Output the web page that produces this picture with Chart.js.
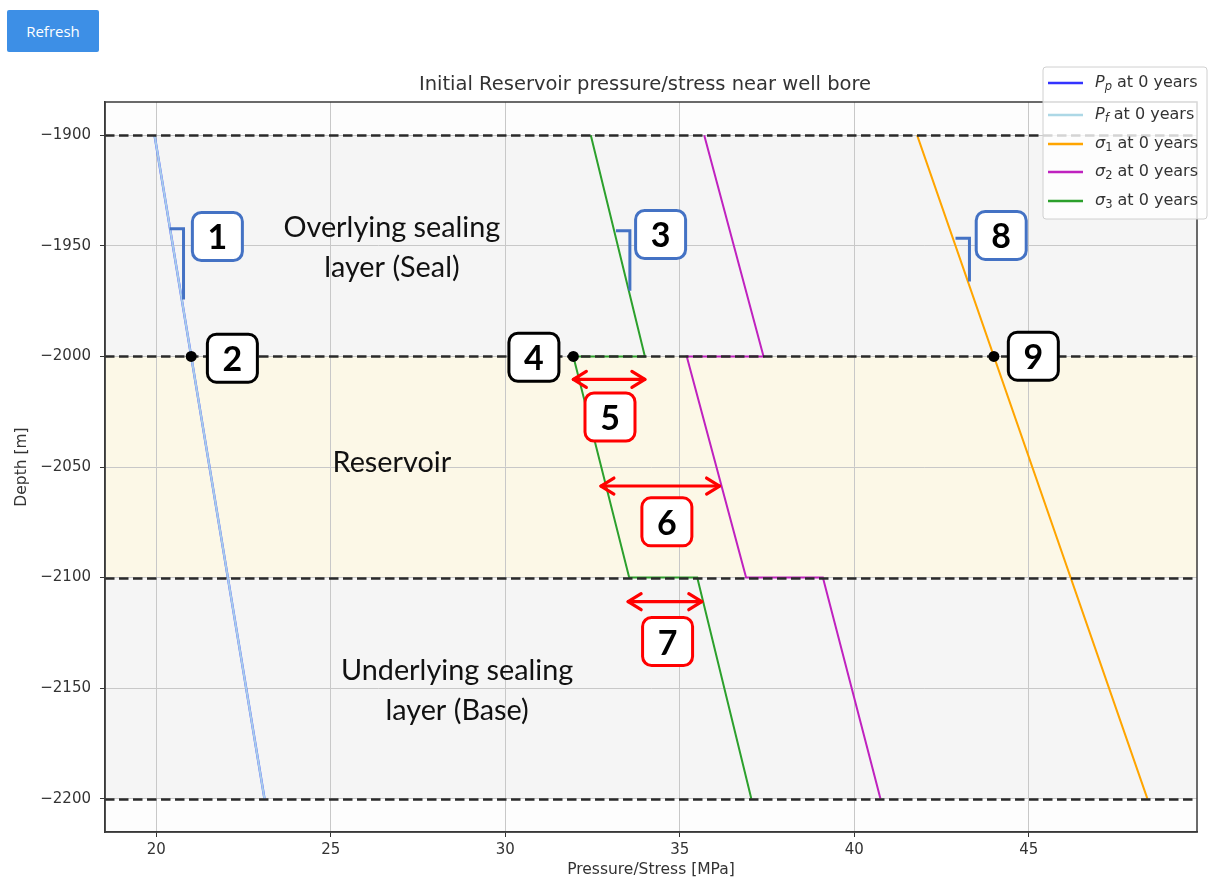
<!DOCTYPE html>
<html>
<head>
<meta charset="utf-8">
<script src="https://cdn.jsdelivr.net/npm/chart.js@4"></script>
<style>
  html, body { margin: 0; padding: 0; background: #ffffff; width: 1211px; height: 884px; overflow: hidden; }
  #wrap { position: absolute; left: 0; top: 0; width: 1211px; height: 884px; }
  #refresh {
    position: absolute; left: 7px; top: 10px; width: 92px; height: 42px;
    background: #3d8fe6; color: #ffffff; border: none; border-radius: 2px;
    font: 15px "Open Sans", sans-serif; padding: 0; cursor: pointer;
  }
</style>
</head>
<body>
<div id="wrap"><canvas id="c" width="1211" height="884"></canvas></div>
<button id="refresh">Refresh</button>
<script>
// ---- data (MPa vs depth in m) ----
const depthPts = [-1900, -2000, -2100, -2200];
const ppValues = [19.95, 21.0, 22.05, 23.1];
const pfValues = [19.95, 21.0, 22.05, 23.1];
const sigma1Values = [41.8, 44.0, 46.2, 48.4];

// sigma2 / sigma3 jump at the layer interfaces
const stepDepths = [-1900, -2000, -2000, -2100, -2100, -2200];
const sigma2Values = [35.7, 37.4, 35.2, 36.9, 39.1, 40.75];
const sigma3Values = [32.45, 34.0, 31.95, 33.55, 35.5, 37.05];

const xTicks = [20, 25, 30, 35, 40, 45];
const yTicks = [-1900, -1950, -2000, -2050, -2100, -2150, -2200];

// layer interfaces and the layers between them
const layerBoundaries = [-1900, -2000, -2100, -2200];
const layerKinds = ['seal', 'reservoir', 'seal'];

// layer captions (data coordinates of the first line)
const regionLines = [['Overlying sealing', 'layer (Seal)'], ['Reservoir'], ['Underlying sealing', 'layer (Base)']];
const regionX = [26.75, 26.75, 28.62];
const regionY = [-1941.7, -2048.2, -2142.0];

// numbered callouts
const calloutNums = ['1', '2', '3', '4', '5', '6', '7', '8', '9'];
const calloutX = [21.75, 22.18, 34.45, 30.82, 33.0, 34.63, 34.65, 44.21, 45.13];
const calloutY = [-1945.8, -2000.8, -1944.9, -2000.4, -2027.4, -2074.8, -2128.9, -1945.3, -1999.9];
const calloutKind = ['slope', 'point', 'slope', 'point', 'gap', 'gap', 'gap', 'slope', 'point'];

// interface points on Pp, sigma3 and sigma1
const dotX = [21.0, 31.95, 44.0];
const dotY = [-2000, -2000, -2000];

// gradient brackets: x start, x end, depth top, depth bottom
const bracketX0 = [20.38, 33.17, 42.90];
const bracketX1 = [20.78, 33.57, 43.30];
const bracketTop = [-1942.3, -1943.2, -1946.6];
const bracketBottom = [-1974.3, -1970.3, -1966.1];

// stress contrast arrows: x from, x to, depth
const arrowFrom = [31.95, 32.74, 33.52];
const arrowTo = [34.0, 36.14, 35.63];
const arrowDepth = [-2010.4, -2058.6, -2110.9];

const seriesLabels = ['Pp at 0 years', 'Pf at 0 years', 'σ1 at 0 years', 'σ2 at 0 years', 'σ3 at 0 years'];
const legendSymbols = ['P', 'P', 'σ', 'σ', 'σ'];
const legendSubs = ['p', 'f', '1', '2', '3'];

// ---- styling ----
const COLORS = {
  pp: 'rgba(50,70,255,0.85)', pf: '#a9cdea', s1: '#ffa500', s2: '#bf22bf', s3: '#2ca02c',
  seal: '#f5f5f5', reservoir: '#fcf8e7',
  slope: '#4472c4', point: '#000000', gap: '#ff0000'
};
const TICK_FONT = { family: 'DejaVu Sans', size: 15 };
const LABEL_FONT = { family: 'DejaVu Sans', size: 15.5 };
const minus = v => String(v).replace('-', '\u2212');

function pts(xs, ys) { return xs.map((v, i) => ({ x: v, y: ys[i] })); }

function roundRect(ctx, x, y, w, h, r) {
  ctx.beginPath();
  ctx.moveTo(x + r, y);
  ctx.lineTo(x + w - r, y);
  ctx.arcTo(x + w, y, x + w, y + r, r);
  ctx.lineTo(x + w, y + h - r);
  ctx.arcTo(x + w, y + h, x + w - r, y + h, r);
  ctx.lineTo(x + r, y + h);
  ctx.arcTo(x, y + h, x, y + h - r, r);
  ctx.lineTo(x, y + r);
  ctx.arcTo(x, y, x + r, y, r);
  ctx.closePath();
}

// layer background bands
const bandsPlugin = {
  id: 'bands',
  beforeDraw(chart) {
    const { ctx, chartArea: a, scales: { y } } = chart;
    ctx.save();
    ctx.fillStyle = '#fdfdfd';
    ctx.fillRect(a.left, a.top, a.right - a.left, a.bottom - a.top);
    for (let i = 0; i < layerKinds.length; i++) {
      const t = y.getPixelForValue(layerBoundaries[i]);
      const b = y.getPixelForValue(layerBoundaries[i + 1]);
      ctx.fillStyle = COLORS[layerKinds[i]];
      ctx.fillRect(a.left, t, a.right - a.left, b - t);
    }
    ctx.restore();
  }
};

// interfaces, captions, callouts
const overlayPlugin = {
  id: 'overlay',
  afterDatasetsDraw(chart) {
    const { ctx, chartArea: a, scales: { x, y } } = chart;
    ctx.save();
    // dashed interface lines
    ctx.strokeStyle = '#2a2a2a';
    ctx.lineWidth = 2.6;
    ctx.setLineDash([9.5, 4.5]);
    layerBoundaries.forEach(d => {
      const py = Math.round(y.getPixelForValue(d)) + 0.5;
      ctx.beginPath(); ctx.moveTo(a.left, py); ctx.lineTo(a.right, py); ctx.stroke();
    });
    ctx.setLineDash([]);

    // frame
    ctx.strokeStyle = '#3a3a3a';
    ctx.lineWidth = 1.5;
    ctx.strokeRect(a.left, a.top, a.right - a.left, a.bottom - a.top);

    // layer captions
    ctx.fillStyle = '#111111';
    ctx.font = '28.8px Lato, "Open Sans", sans-serif';
    ctx.textAlign = 'center';
    ctx.textBaseline = 'middle';
    regionLines.forEach((lines, i) => {
      const px = x.getPixelForValue(regionX[i]);
      const py = y.getPixelForValue(regionY[i]);
      lines.forEach((t, k) => ctx.fillText(t, px, py + k * 40));
    });

    // gradient brackets
    ctx.strokeStyle = COLORS.slope;
    ctx.lineWidth = 3;
    ctx.lineJoin = 'miter';
    for (let i = 0; i < bracketX0.length; i++) {
      const x0 = x.getPixelForValue(bracketX0[i]);
      const x1 = x.getPixelForValue(bracketX1[i]);
      const t = y.getPixelForValue(bracketTop[i]);
      const b = y.getPixelForValue(bracketBottom[i]);
      ctx.beginPath(); ctx.moveTo(x0, t); ctx.lineTo(x1, t); ctx.lineTo(x1, b); ctx.stroke();
    }

    // double arrows
    ctx.strokeStyle = COLORS.gap;
    ctx.lineWidth = 3.2;
    ctx.lineCap = 'round';
    ctx.lineJoin = 'round';
    for (let i = 0; i < arrowFrom.length; i++) {
      const x0 = x.getPixelForValue(arrowFrom[i]);
      const x1 = x.getPixelForValue(arrowTo[i]);
      const py = y.getPixelForValue(arrowDepth[i]);
      ctx.beginPath(); ctx.moveTo(x0, py); ctx.lineTo(x1, py); ctx.stroke();
      ctx.beginPath(); ctx.moveTo(x0 + 13, py - 8); ctx.lineTo(x0, py); ctx.lineTo(x0 + 13, py + 8); ctx.stroke();
      ctx.beginPath(); ctx.moveTo(x1 - 13, py - 8); ctx.lineTo(x1, py); ctx.lineTo(x1 - 13, py + 8); ctx.stroke();
    }
    ctx.lineCap = 'butt';

    // interface dots
    ctx.fillStyle = '#000000';
    dotX.forEach((v, i) => {
      ctx.beginPath();
      ctx.arc(x.getPixelForValue(v), y.getPixelForValue(dotY[i]), 5.5, 0, Math.PI * 2);
      ctx.fill();
    });

    // numbered callout boxes
    ctx.font = 'bold 34px Lato, "Open Sans", sans-serif';
    ctx.textAlign = 'center';
    ctx.textBaseline = 'middle';
    calloutNums.forEach((n, i) => {
      const cx = x.getPixelForValue(calloutX[i]);
      const cy = y.getPixelForValue(calloutY[i]);
      roundRect(ctx, cx - 25, cy - 24, 50, 48, 9);
      ctx.fillStyle = '#ffffff';
      ctx.fill();
      ctx.lineWidth = 3;
      ctx.strokeStyle = COLORS[calloutKind[i]];
      ctx.stroke();
      ctx.fillStyle = '#000000';
      ctx.fillText(n, cx, cy + 2);
    });
    ctx.restore();
  },
  afterDraw(chart) {
    const { ctx, chartArea: a } = chart;
    ctx.save();
    // title
    ctx.fillStyle = '#333333';
    ctx.font = '19.5px "DejaVu Sans"';
    ctx.textAlign = 'center';
    ctx.textBaseline = 'middle';
    ctx.fillText('Initial Reservoir pressure/stress near well bore', (a.left + a.right) / 2 - 6, 85);

    // legend
    const lx = 1043, ly = 67, lw = 164, lh = 152;
    roundRect(ctx, lx, ly, lw, lh, 3);
    ctx.fillStyle = 'rgba(255,255,255,0.8)';
    ctx.fill();
    ctx.strokeStyle = '#d0d0d0';
    ctx.lineWidth = 1;
    ctx.stroke();
    const rowY = [83, 115, 144, 172, 201];
    ctx.textAlign = 'left';
    ctx.textBaseline = 'middle';
    chart.data.datasets.forEach((ds, i) => {
      const ry = rowY[i];
      ctx.strokeStyle = ds.legendColor || ds.borderColor;
      ctx.lineWidth = 2.5;
      ctx.beginPath(); ctx.moveTo(1048, ry); ctx.lineTo(1083, ry); ctx.stroke();
      let tx = 1095;
      ctx.fillStyle = '#333333';
      ctx.font = 'italic 16px "DejaVu Sans"';
      ctx.fillText(legendSymbols[i], tx, ry);
      tx += ctx.measureText(legendSymbols[i]).width;
      ctx.font = (i < 2 ? 'italic ' : '') + '11.5px "DejaVu Sans"';
      ctx.fillText(legendSubs[i], tx, ry + 4);
      tx += ctx.measureText(legendSubs[i]).width;
      ctx.font = '16px "DejaVu Sans"';
      ctx.fillText(' at 0 years', tx, ry);
    });
    ctx.restore();
  }
};

const lineStyle = { showLine: true, pointRadius: 0, pointHoverRadius: 0, tension: 0, fill: false };

new Chart(document.getElementById('c'), {
  type: 'scatter',
  data: {
    datasets: [
      { ...lineStyle, label: seriesLabels[0], data: pts(ppValues, depthPts), borderColor: COLORS.pp, legendColor: '#3333ff', borderWidth: 2.4, order: 2 },
      { ...lineStyle, label: seriesLabels[1], data: pts(pfValues, depthPts), borderColor: COLORS.pf, legendColor: '#add8e6', borderWidth: 2, order: 1 },
      { ...lineStyle, label: seriesLabels[2], data: pts(sigma1Values, depthPts), borderColor: COLORS.s1, borderWidth: 2, order: 3 },
      { ...lineStyle, label: seriesLabels[3], data: pts(sigma2Values, stepDepths), borderColor: COLORS.s2, borderWidth: 2, order: 4 },
      { ...lineStyle, label: seriesLabels[4], data: pts(sigma3Values, stepDepths), borderColor: COLORS.s3, borderWidth: 2, order: 5 }
    ]
  },
  options: {
    responsive: false,
    animation: false,
    devicePixelRatio: 1,
    events: [],
    layout: { padding: { top: 102, right: 14, left: 0, bottom: 0 } },
    plugins: { legend: { display: false }, title: { display: false }, tooltip: { enabled: false } },
    scales: {
      x: {
        type: 'linear', min: 18.53, max: 49.82,
        afterBuildTicks: s => { s.ticks = xTicks.map(v => ({ value: v })); },
        afterFit: s => { s.height = 52; },
        grid: { color: '#c8c8c8', lineWidth: 1, tickLength: 5, tickColor: '#333333', drawTicks: true },
        border: { display: true, color: '#3a3a3a', width: 1.5 },
        ticks: { font: TICK_FONT, color: '#333333', padding: 4, maxRotation: 0, callback: v => minus(v) },
        title: { display: true, text: 'Pressure/Stress [MPa]', font: LABEL_FONT, color: '#333333', padding: { top: 0, bottom: 5 } }
      },
      y: {
        type: 'linear', min: -2215, max: -1885,
        afterBuildTicks: s => { s.ticks = yTicks.map(v => ({ value: v })); },
        afterFit: s => { s.width = 105; },
        grid: { color: '#c8c8c8', lineWidth: 1, tickLength: 5, tickColor: '#333333', drawTicks: true },
        border: { display: true, color: '#3a3a3a', width: 1.5 },
        ticks: { font: TICK_FONT, color: '#333333', padding: 9, callback: v => minus(v) },
        title: { display: true, text: 'Depth [m]', font: LABEL_FONT, color: '#333333', padding: { top: 13, bottom: 0 } }
      }
    }
  },
  plugins: [bandsPlugin, overlayPlugin]
});
</script>
</body>
</html>
